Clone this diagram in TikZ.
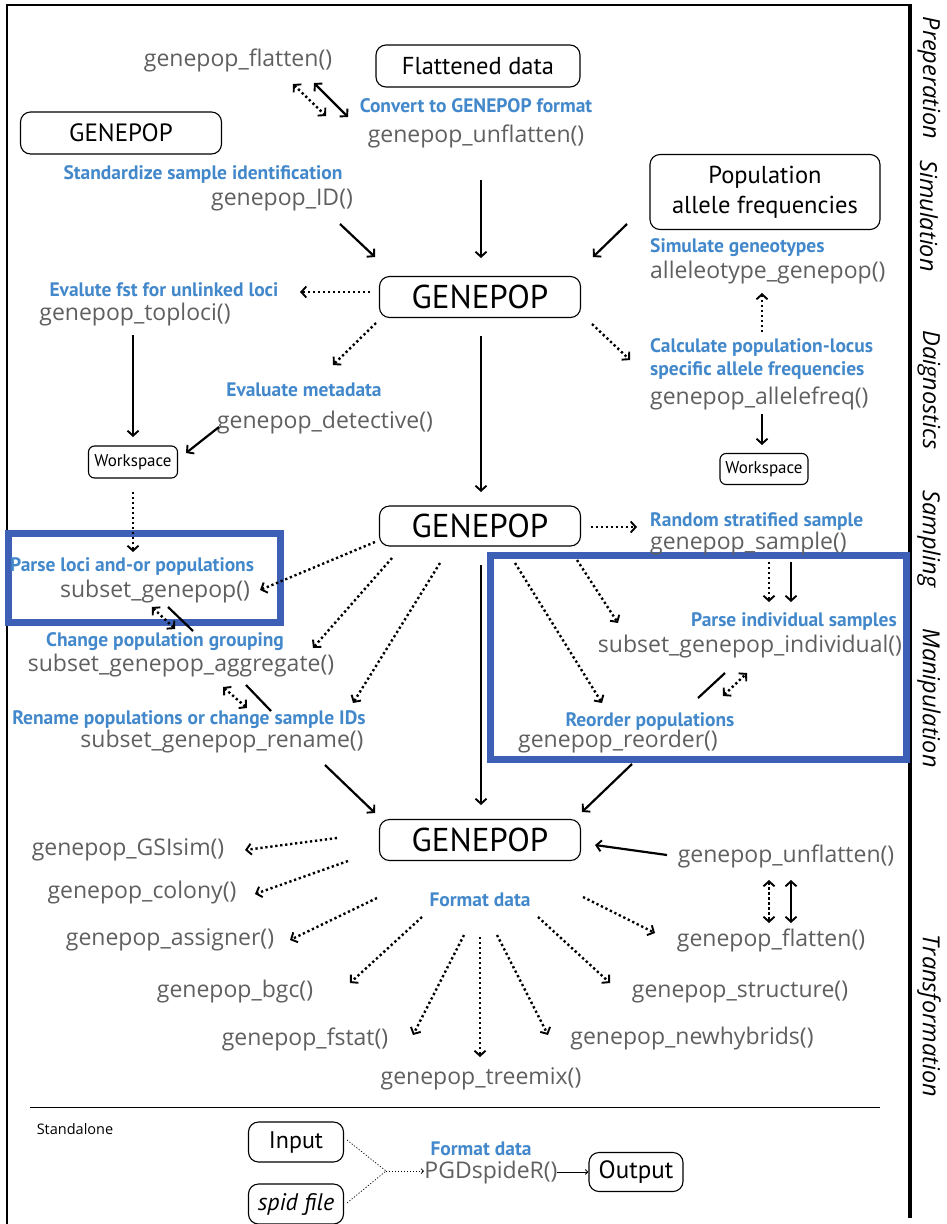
\documentclass[tikz,border=0pt]{standalone}
\usepackage{fontspec}
\setmainfont{PT Sans}
\newfontfamily\grayf{Open Sans}
\usetikzlibrary{arrows.meta}
\definecolor{bluetxt}{RGB}{66,136,202}
\definecolor{bluebox}{RGB}{61,96,182}
\definecolor{graytxt}{RGB}{95,95,95}
\tikzset{
  gtxt/.style={inner sep=0pt,text=graytxt,font=\grayf\fontsize{23}{27}\selectfont},
  btxt/.style={inner sep=0pt,text=bluetxt,font=\bfseries\fontsize{19.5}{23}\selectfont},
  rbox/.style={draw,rounded corners=10pt,line width=1.1pt,inner sep=0pt},
  side/.style={inner sep=0pt,font=\grayf\itshape\fontsize{23.5}{26}\selectfont,rotate=-90},
  tipb/.style={},
  solidarr/.style={line width=2.2pt,-{Straight Barb[length=5pt,width=11pt,line width=1.9pt]}},
  soliddbl/.style={line width=2.2pt,{Straight Barb[length=5pt,width=11pt,line width=1.9pt]}-{Straight Barb[length=5pt,width=11pt,line width=1.9pt]}},
  dotarr/.style={line width=2.4pt,dash pattern=on 2.3pt off 2.7pt,-{Straight Barb[length=5pt,width=11pt,line width=1.9pt]}},
  dotdbl/.style={line width=2.4pt,dash pattern=on 2.3pt off 2.7pt,{Straight Barb[length=5pt,width=11pt,line width=1.9pt]}-{Straight Barb[length=5pt,width=11pt,line width=1.9pt]}},
  solidline/.style={line width=2.2pt},
  bluerect/.style={draw=bluebox,line width=7pt}
}
\begin{document}
\begin{tikzpicture}[x=1pt,y=-1pt]
\useasboundingbox (0,0) rectangle (946,1224);
% frame
\draw[line width=2pt] (7,1226) -- (7,5) -- (911,5);
\draw[line width=3.5pt] (910,4) -- (910,1218);
% side labels
\node[side] (sPrep) at (929,78) {Preperation};
\node[side] (sSim) at (929,216) {Simulation};
\node[side] (sDia) at (929,390) {Daignostics};
\node[side] (sSam) at (929,539) {Sampling};
\node[side] (sMan) at (929,698) {Manipulation};
\node[side] (sTra) at (929,1016) {Transformation};

% blue rectangles
\draw[bluerect] (8,533) rectangle (280,622);
\draw[bluerect] (490.5,555.5) rectangle (906.5,759.5);

% preparation
\node[gtxt] (flat1) at (238,60) {genepop\_flatten()};
\node[rbox,minimum width=204pt,minimum height=42pt,font=\fontsize{24.5}{28}\selectfont] (flatbox) at (478,66) {Flattened data};
\node[btxt] (conv) at (476,106) {Convert to GENEPOP format};
\node[gtxt] (unfl1) at (476,136) {genepop\_unflatten()};
\node[rbox,minimum width=201pt,minimum height=42pt,font=\fontsize{25}{28}\selectfont] (gpsmall) at (121,133) {GENEPOP};
\node[btxt] (std) at (203,174) {Standardize sample identification};
\node[gtxt] (gid) at (282,200) {genepop\_ID()};

% simulation
\node[rbox,minimum width=230pt,minimum height=75pt,align=center,font=\fontsize{24.5}{30}\selectfont] (popbox) at (765,192) {Population\\allele frequencies};
\node[btxt,anchor=west] (sim) at (650,248) {Simulate geneotypes};
\node[gtxt,anchor=west] (allel) at (650,273) {alleleotype\_genepop()};

% GENEPOP 1
\node[rbox,minimum width=201pt,minimum height=41pt,font=\fontsize{33}{36}\selectfont] (G1) at (480,297) {GENEPOP};
\node[btxt] (fst) at (164,290) {Evalute fst for unlinked loci};
\node[gtxt] (toploci) at (135,315) {genepop\_toploci()};
\node[btxt] (evm) at (304,390) {Evaluate metadata};
\node[gtxt] (detect) at (325,423) {genepop\_detective()};
\node[rbox,minimum width=89pt,minimum height=32pt,rounded corners=6pt,font=\fontsize{17}{19}\selectfont] (ws1) at (133,462) {Workspace};
\node[btxt,anchor=west] (calc1) at (650,347) {Calculate population-locus};
\node[btxt,anchor=west] (calc2) at (650,371) {specific allele frequencies};
\node[gtxt,anchor=west] (afreq) at (650,398) {genepop\_allelefreq()};
\node[rbox,minimum width=88pt,minimum height=31pt,rounded corners=6pt,font=\fontsize{17}{19}\selectfont] (ws2) at (764,469) {Workspace};

% GENEPOP 2
\node[rbox,minimum width=201pt,minimum height=40pt,font=\fontsize{33}{36}\selectfont] (G2) at (480,526) {GENEPOP};
\node[btxt,anchor=west] (rss) at (650,522) {Random stratified sample};
\node[gtxt,anchor=west] (sample) at (650,544) {genepop\_sample()};
\node[btxt,anchor=west] (plp) at (10,567) {Parse loci and-or populations};
\node[gtxt] (subgp) at (155,592) {subset\_genepop()};
\node[btxt] (chg) at (165,642) {Change population grouping};
\node[gtxt] (agg) at (181,666) {subset\_genepop\_aggregate()};
\node[btxt] (ren) at (189,720) {Rename populations or change sample IDs};
\node[gtxt] (rename) at (222,742) {subset\_genepop\_rename()};
\node[btxt] (pis) at (794,622) {Parse individual samples};
\node[gtxt] (sgi) at (750,647) {subset\_genepop\_individual()};
\node[btxt] (reo) at (650,722) {Reorder populations};
\node[gtxt] (reorder) at (618,742) {genepop\_reorder()};

% GENEPOP 3
\node[rbox,minimum width=201pt,minimum height=41pt,font=\fontsize{33}{36}\selectfont] (G3) at (480,840) {GENEPOP};
\node[gtxt] (unfl2) at (786,856) {genepop\_unflatten()};
\node[btxt] (fmt) at (480,900) {Format data};
\node[gtxt] (gsi) at (128,850) {genepop\_GSIsim()};
\node[gtxt] (colony) at (142,893) {genepop\_colony()};
\node[gtxt] (assigner) at (170,940) {genepop\_assigner()};
\node[gtxt] (bgc) at (235,992) {genepop\_bgc()};
\node[gtxt] (fstat) at (305,1039) {genepop\_fstat()};
\node[gtxt] (treemix) at (481,1079) {genepop\_treemix()};
\node[gtxt] (newhyb) at (692,1039) {genepop\_newhybrids()};
\node[gtxt] (structure) at (740,992) {genepop\_structure()};
\node[gtxt] (flat2) at (771,940) {genepop\_flatten()};

% standalone
\draw[line width=0.8pt] (30,1107) -- (880,1107);
\node[inner sep=0pt,font=\grayf\fontsize{14.5}{16}\selectfont] (stand) at (75,1129) {Standalone};
\node[rbox,minimum width=95pt,minimum height=40pt,font=\fontsize{24}{27}\selectfont] (input) at (296,1142) {Input};
\node[rbox,minimum width=95pt,minimum height=40pt,font=\itshape\fontsize{24}{27}\selectfont] (spid) at (296,1204) {spid file};
\node[btxt] (fmt2) at (481,1149) {Format data};
\node[gtxt] (pgd) at (491,1173) {PGDspideR()};
\node[rbox,minimum width=94pt,minimum height=39pt,font=\fontsize{25}{28}\selectfont] (output) at (636,1172) {Output};

% connector coordinates
\path (293,84) coordinate (a1s) (326,116) coordinate (a1e)
      (314,83) coordinate (a2s) (348,117) coordinate (a2e)
      (340,224) coordinate (a3s) (375,257) coordinate (a3e)
      (481,180) coordinate (a4s) (481,258) coordinate (a4e)
      (627,224) coordinate (a5s) (593,257) coordinate (a5e)
      (370,292) coordinate (a6s) (300,292) coordinate (a6e)
      (376,323) coordinate (a7s) (333,365) coordinate (a7e)
      (133,335) coordinate (a8s) (133,437) coordinate (a8e)
      (219,427) coordinate (a9s) (186,453) coordinate (a9e)
      (133,492) coordinate (a10s) (133,552) coordinate (a10e)
      (592,324) coordinate (a11s) (630,360) coordinate (a11e)
      (762,332) coordinate (a12s) (762,293) coordinate (a12e)
      (762,414) coordinate (a13s) (762,445) coordinate (a13e)
      (481,336) coordinate (a14s) (481,492) coordinate (a14e)
      (591,527) coordinate (a15s) (637,527) coordinate (a15e)
      (375,542) coordinate (a16s) (260,590) coordinate (a16e)
      (392,558) coordinate (a17s) (313,648) coordinate (a17e)
      (440,563) coordinate (a18s) (353,703) coordinate (a18e)
      (152,607) coordinate (a19s) (175,629) coordinate (a19e)
      (168,607) coordinate (a20s) (193,631) coordinate (a20e)
      (223,687) coordinate (a21s) (247,708) coordinate (a21e)
      (246,685) coordinate (a22s) (271,711) coordinate (a22e)
      (325,765) coordinate (a23s) (375,813) coordinate (a23e)
      (481,565) coordinate (a24s) (481,805) coordinate (a24e)
      (515,563) coordinate (a25s) (602,703) coordinate (a25e)
      (577,560) coordinate (a26s) (618,623) coordinate (a26e)
      (769,562) coordinate (a27s) (769,602) coordinate (a27e)
      (791,562) coordinate (a28s) (791,602) coordinate (a28e)
      (698,698) coordinate (a29s) (725,673) coordinate (a29e)
      (723,696) coordinate (a30s) (747,673) coordinate (a30e)
      (632,764) coordinate (a31s) (582,812) coordinate (a31e)
      (337,838) coordinate (a32s) (245,850) coordinate (a32e)
      (348,861) coordinate (a33s) (255,894) coordinate (a33e)
      (377,898) coordinate (a34s) (290,940) coordinate (a34e)
      (422,917) coordinate (a35s) (350,983) coordinate (a35e)
      (464,935) coordinate (a36s) (413,1035) coordinate (a36e)
      (480,937) coordinate (a37s) (480,1057) coordinate (a37e)
      (497,935) coordinate (a38s) (548,1035) coordinate (a38e)
      (538,917) coordinate (a39s) (610,983) coordinate (a39e)
      (583,897) coordinate (a40s) (655,933) coordinate (a40e)
      (667,855) coordinate (a41s) (595,845) coordinate (a41e)
      (769,880) coordinate (a42s) (769,923) coordinate (a42e)
      (791,880) coordinate (a43s) (791,923) coordinate (a43e)
      (347,1140) coordinate (inS) (347,1203) coordinate (spS)
      (386,1171) coordinate (merge) (424,1171) coordinate (pgdIn)
      (557,1172) coordinate (pgdOut);

\draw[dotdbl] (a1s) -- (a1e);
\draw[soliddbl] (a2s) -- (a2e);
\draw[solidarr] (a3s) -- (a3e);
\draw[solidarr] (a4s) -- (a4e);
\draw[solidarr] (a5s) -- (a5e);
\draw[dotarr] (a6s) -- (a6e);
\draw[dotarr] (a7s) -- (a7e);
\draw[solidarr] (a8s) -- (a8e);
\draw[solidarr] (a9s) -- (a9e);
\draw[dotarr] (a10s) -- (a10e);
\draw[dotarr] (a11s) -- (a11e);
\draw[dotarr] (a12s) -- (a12e);
\draw[solidarr] (a13s) -- (a13e);
\draw[solidarr] (a14s) -- (a14e);
\draw[dotarr] (a15s) -- (a15e);
\draw[dotarr] (a16s) -- (a16e);
\draw[dotarr] (a17s) -- (a17e);
\draw[dotarr] (a18s) -- (a18e);
\draw[dotdbl] (a19s) -- (a19e);
\draw[solidline] (a20s) -- (a20e);
\draw[dotdbl] (a21s) -- (a21e);
\draw[solidline] (a22s) -- (a22e);
\draw[solidarr] (a23s) -- (a23e);
\draw[solidarr] (a24s) -- (a24e);
\draw[dotarr] (a25s) -- (a25e);
\draw[dotarr] (a26s) -- (a26e);
\draw[dotarr] (a27s) -- (a27e);
\draw[solidarr] (a28s) -- (a28e);
\draw[solidline] (a29s) -- (a29e);
\draw[dotdbl] (a30s) -- (a30e);
\draw[solidarr] (a31s) -- (a31e);
\draw[dotarr] (a32s) -- (a32e);
\draw[dotarr] (a33s) -- (a33e);
\draw[dotarr] (a34s) -- (a34e);
\draw[dotarr] (a35s) -- (a35e);
\draw[dotarr] (a36s) -- (a36e);
\draw[dotarr] (a37s) -- (a37e);
\draw[dotarr] (a38s) -- (a38e);
\draw[dotarr] (a39s) -- (a39e);
\draw[dotarr] (a40s) -- (a40e);
\draw[solidarr] (a41s) -- (a41e);
\draw[dotdbl] (a42s) -- (a42e);
\draw[soliddbl] (a43s) -- (a43e);

% standalone connectors
\draw[line width=0.7pt,dash pattern=on 1.2pt off 1.8pt] (inS) -- (merge) -- (spS);
\draw[line width=0.7pt,dash pattern=on 1.2pt off 1.8pt,-{Straight Barb[length=2.5pt,width=5pt]}] (merge) -- (pgdIn);
\draw[line width=0.9pt,-{Straight Barb[length=2.5pt,width=5pt]}] (pgdOut) -- (output.west);
\end{tikzpicture}
\end{document}
